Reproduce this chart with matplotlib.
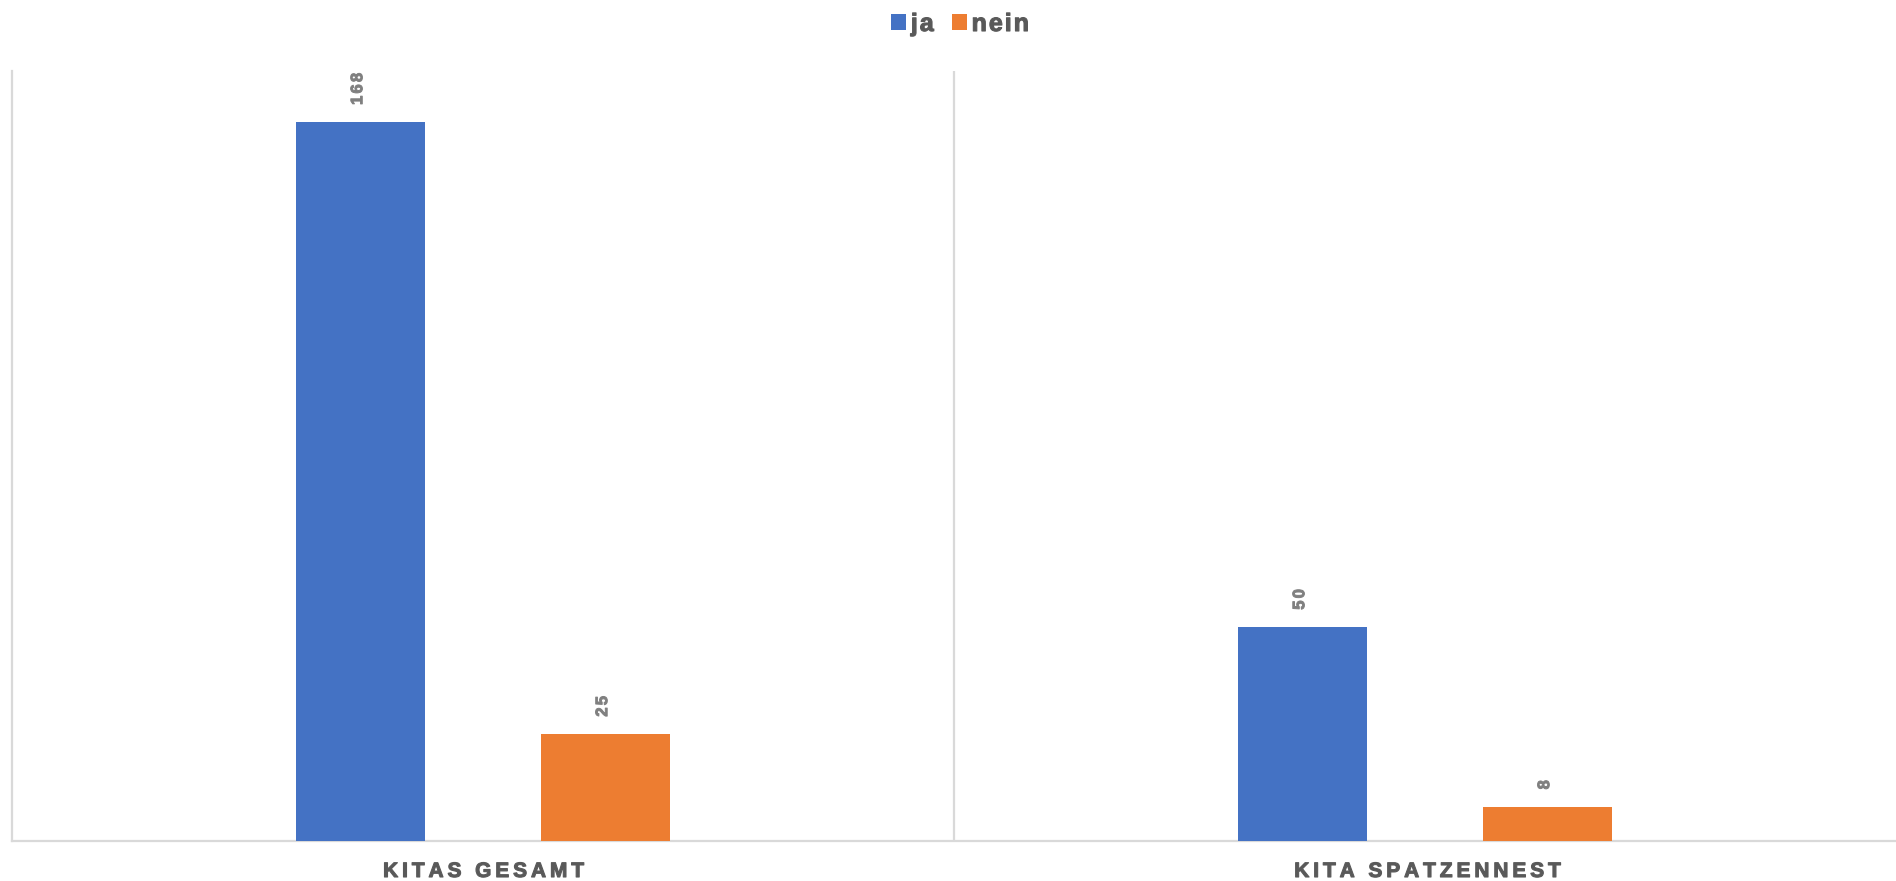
import numpy as np
import matplotlib
matplotlib.use("Agg")
import matplotlib.pyplot as plt
from matplotlib.patheffects import AbstractPathEffect
from matplotlib.textpath import TextPath
from matplotlib.path import Path
from matplotlib.font_manager import FontProperties, findfont, get_font
from matplotlib.patches import Patch

# ---------------- data ----------------
categories = ["KITAS GESAMT", "KITA SPATZENNEST"]
series_names = ["ja", "nein"]
ja_values = [168, 50]
nein_values = [25, 8]

# ---------------- style ----------------
FONT = "Liberation Sans"
BLUE = "#4472C4"
ORANGE = "#ED7D31"
GRID = "#D9D9D9"
LABEL_GREY = "#595959"
VALUE_GREY = "#7F7F7F"


class LetterSpacing(AbstractPathEffect):
    """Redraws a text path with extra spacing between characters."""

    def __init__(self, text, prop, spacing_em, anchor="center", stroke=0.6):
        super().__init__()
        self.text = text
        self.prop = prop
        self.spacing = spacing_em * 100.0
        self.anchor = anchor
        self.stroke = stroke

    def draw_path(self, renderer, gc, tpath, affine, rgbFace=None):
        font = get_font(findfont(self.prop))
        font.set_size(100, 72)
        paths = []
        x = 0.0
        n = len(self.text)
        for ch in self.text:
            if not ch.isspace():
                paths.append(TextPath((x, 0), ch, size=100, prop=self.prop))
            g = font.load_char(ord(ch))
            x += g.linearHoriAdvance / 65536.0 + self.spacing
        if not paths:
            return
        path = Path.make_compound_path(*paths)
        extra = self.spacing * (n - 1)
        shift = -extra / 2.0 if self.anchor == "center" else 0.0
        verts = path.vertices.copy()
        verts[:, 0] += shift
        path = Path(verts, path.codes)
        gc0 = renderer.new_gc()
        gc0.copy_properties(gc)
        gc0.set_linewidth(self.stroke)
        gc0.set_foreground(rgbFace)
        gc0.set_joinstyle("round")
        renderer.draw_path(gc0, path, affine, rgbFace)
        gc0.restore()


W, H = 1896, 881
fig = plt.figure(figsize=(W / 100, H / 100), dpi=100)
ax_left, ax_bottom, ax_top = 12, 40, 71
ax = fig.add_axes([ax_left / W, ax_bottom / H, (W - ax_left) / W, (H - ax_bottom - ax_top) / H])

x = np.arange(len(categories))
bar_w = 0.137
offset = 0.13
ax.bar(x - offset, ja_values, bar_w, color=BLUE, zorder=3, label=series_names[0])
ax.bar(x + offset, nein_values, bar_w, color=ORANGE, zorder=3, label=series_names[1])

ax.set_xlim(-0.5, len(categories) - 0.5)
ax.set_ylim(0, 180)
ax.set_yticks([])
ax.set_xticks([])

for s in ["top", "right"]:
    ax.spines[s].set_visible(False)
for s in ["left", "bottom"]:
    ax.spines[s].set_color(GRID)
    ax.spines[s].set_linewidth(1.6)
for b in range(1, len(categories)):
    ax.axvline(b - 0.5, color=GRID, lw=1.6, zorder=1)

# category labels
cat_prop = FontProperties(family=FONT, weight="bold", size=15)
for xi, name in zip(x, categories):
    ax.text(xi, -(877 - 841) / 770, name, transform=ax.get_xaxis_transform(),
            ha="center", va="baseline", fontproperties=cat_prop, color=LABEL_GREY,
            path_effects=[LetterSpacing(name, cat_prop, 0.19, anchor="center", stroke=0.8)])

# value labels
val_prop = FontProperties(family=FONT, weight="bold", size=12)
for vals, off in ((ja_values, -offset), (nein_values, offset)):
    for xi, v in zip(x, vals):
        s = str(v)
        ax.annotate(s, (xi + off, v), xytext=(-2, 12.5), textcoords="offset points",
                    rotation=90, ha="center", va="bottom", fontproperties=val_prop,
                    color=VALUE_GREY,
                    path_effects=[LetterSpacing(s, val_prop, 0.13, anchor="start", stroke=0.7)])

# legend
leg_prop = FontProperties(family=FONT, weight="bold", size=18)
handles = [Patch(facecolor=BLUE), Patch(facecolor=ORANGE)]
leg = fig.legend(handles, series_names, loc="center", bbox_to_anchor=(0.5047, 1 - 24 / H),
                 ncol=2, frameon=False, prop=leg_prop, labelcolor=LABEL_GREY,
                 handlelength=0.6, handleheight=0.6, handletextpad=0.2,
                 columnspacing=0.8, borderaxespad=0, borderpad=0)
for t in leg.get_texts():
    t.set_path_effects([LetterSpacing(t.get_text(), leg_prop, 0.08, anchor="start", stroke=0.8)])

fig.savefig("out.png", dpi=100)
